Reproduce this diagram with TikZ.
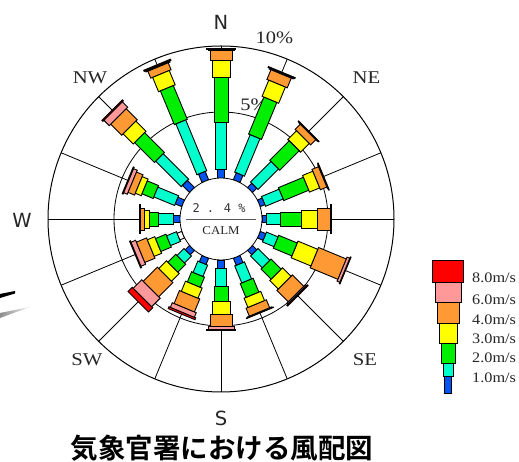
\documentclass[tikz,border=0pt]{standalone}
\usepackage{fontspec}
\setmainfont{Liberation Serif}
\newfontfamily\dvs{DejaVu Sans}
\newfontfamily\dvm{DejaVu Sans Mono}
\newfontfamily\cjkb[BoldFont=*]{Noto Sans CJK JP Bold}
\definecolor{cblue}{HTML}{0055EE}
\definecolor{ccyan}{HTML}{00FFCC}
\definecolor{cgreen}{HTML}{00EE00}
\definecolor{cyel}{HTML}{FFFF00}
\definecolor{corg}{HTML}{FF9933}
\definecolor{cpink}{HTML}{FF9999}
\definecolor{cred}{HTML}{FF0000}
\tikzset{
  segm/.style={draw=black,line width=0.9pt,line join=miter},
  grid/.style={draw=black,line width=0.8pt},
  wide/.style={inner sep=0pt,text=black!85},
  dirsans/.style={inner sep=0pt,font=\dvs\fontsize{19.5}{19.5}\selectfont,text=black!85},
  dirserif/.style={inner sep=0pt,text=black!85,font=\fontsize{18}{18}\selectfont},
}
\newcommand\wtext[2]{\scalebox{#1}[1]{#2}}
\newcommand\petal[8]{%
  \begin{scope}[shift={(221,243)},rotate=-#1]
    \filldraw[segm,fill=cred]  (-14.5,#7) rectangle (14.5,#8);
    \filldraw[segm,fill=cpink] (-13,#6) rectangle (13,#7);
    \filldraw[segm,fill=corg]  (-11,#5) rectangle (11,#6);
    \filldraw[segm,fill=cyel]  (-9,#4) rectangle (9,#5);
    \filldraw[segm,fill=cgreen](-7,#3) rectangle (7,#4);
    \filldraw[segm,fill=ccyan] (-5.3,#2) rectangle (5.3,#3);
    \filldraw[segm,fill=cblue] (-3.6,41) rectangle (3.6,#2);
  \end{scope}}
\begin{document}
\begin{tikzpicture}[x=1pt,y=1pt]
\useasboundingbox (0,0) rectangle (519,462);
\fill[white] (0,0) rectangle (519,462);
% grid
\coordinate (c) at (221,243);
\foreach \a in {0,22.5,...,337.5}
  \draw[grid] (c) ++(\a:41) -- ++(\a:132);
\draw[grid,line width=1pt] (c) circle (173);
\draw[grid] (c) circle (107);
% ring labels
\node[wide] (p10) at (274.5,424) {\fontsize{17.5}{17.5}\selectfont\wtext{1.17}{10\%}};
\node[wide] (p5) at (254,357) {\fontsize{17.5}{17.5}\selectfont\wtext{1.17}{5\%}};
% petals
\petal{0}{49.7}{96.3}{141.3}{159}{168.3}{169.3}{170.2}
\petal{22.5}{48.5}{89}{129}{146.5}{157}{158}{159}
\petal{45}{47}{76}{103.5}{115.7}{123}{123.6}{124.2}
\petal{67.5}{46}{65}{92}{103}{110}{110.6}{111.2}
\petal{90}{45}{59.7}{80}{96.3}{109}{109.8}{110.7}
\petal{112.5}{47}{59.5}{79.6}{101}{131}{134}{134.8}
\petal{135}{47}{63.6}{78}{90}{106}{107.5}{108.7}
\petal{157.5}{48.6}{67}{82}{92}{100.6}{101.2}{101.8}
\petal{180}{49.3}{67}{82.7}{95}{107}{110.3}{111.5}
\petal{202.5}{47.7}{60}{71}{82}{96}{101}{103}
\petal{225}{47}{57}{68}{79}{99}{111}{117}
\begingroup\colorlet{cblue}{white}
\petal{247.5}{46}{56.7}{68}{76}{87}{92}{93}
\endgroup
\petal{270}{47.7}{62.7}{72}{76.7}{80.3}{81}{81.7}
\petal{292.5}{48}{70.5}{82.6}{89}{96}{100}{101}
\petal{315}{51}{87}{115}{129.4}{145}{152.5}{154}
\petal{337.5}{50}{105}{141.5}{157}{164.5}{165.7}{167}
% calm disc
\draw[grid,fill=white] (c) circle (41);
\draw[draw=black!65,line width=0.9pt] (186,243) -- (256,243);
\node[inner sep=0pt,text=black!80,font=\dvm\fontsize{12}{12}\selectfont] (pct) at (219,254) {2 . 4 \%};
\node[wide,font=\fontsize{12}{12}\selectfont] (calm) at (221,231) {\wtext{1.07}{CALM}};
% direction labels
\node[dirsans] (n) at (221,440) {N};
\node[dirsans] (s) at (221,44) {S};
\node[dirsans] (w) at (22,242) {W};
\node[dirserif] (ne) at (366.5,384) {\wtext{1.15}{NE}};
\node[dirserif] (nw) at (90,384) {\wtext{1.15}{NW}};
\node[dirserif] (se) at (365,102) {\wtext{1.15}{SE}};
\node[dirserif] (sw) at (87,102) {\wtext{1.15}{SW}};
% legend
\filldraw[segm,fill=cred]  (432,202) rectangle (463,180);
\filldraw[segm,fill=cpink] (435,180) rectangle (461,160);
\filldraw[segm,fill=corg]  (437,160) rectangle (459,139);
\filldraw[segm,fill=cyel]  (439,139) rectangle (457,119);
\filldraw[segm,fill=cgreen](441,119) rectangle (455,99);
\filldraw[segm,fill=ccyan] (443,99) rectangle (453,86);
\filldraw[segm,fill=cblue] (444.5,86) rectangle (451.5,69);
\foreach \t/\y/\nm in {8.0/184/a,6.0/162/b,4.0/142/c,3.0/123/d,2.0/104/e,1.0/84/f}
  \node[wide,anchor=west,font=\fontsize{14.5}{14.5}\selectfont] (leg\nm) at (472,\y) {\wtext{1.12}{\t m/s}};
% title
\node[inner sep=0pt,text=black] (title) at (222,14) {\cjkb\fontsize{27.5}{27.5}\selectfont 気象官署における風配図};
% stray wedges at the left edge
\fill[black] (0,164) -- (0,168) -- (15,171) -- (15,168.5) -- cycle;
\shade[left color=black!45,right color=black!5] (0,144) -- (0,149) -- (30,155) -- cycle;
\end{tikzpicture}
\end{document}
